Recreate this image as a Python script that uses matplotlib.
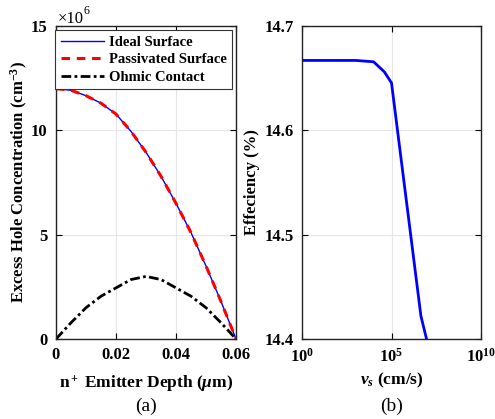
import numpy as np
import matplotlib
matplotlib.use("Agg")
import matplotlib.pyplot as plt

plt.rcParams['font.family'] = ['Liberation Serif', 'DejaVu Serif']
plt.rcParams['font.weight'] = 'bold'
plt.rcParams['mathtext.fontset'] = 'custom'
plt.rcParams['mathtext.rm'] = 'Liberation Serif:bold'
plt.rcParams['mathtext.bf'] = 'Liberation Serif:bold'
plt.rcParams['mathtext.it'] = 'Liberation Serif:bold:italic'

# (a) excess hole concentration vs emitter depth
depth = [0, 0.005, 0.01, 0.015, 0.02, 0.025, 0.03, 0.035, 0.04, 0.045, 0.05, 0.055, 0.06]  # um
ideal = [12.0, 11.92, 11.66, 11.3, 10.78, 9.95, 8.95, 7.8, 6.5, 5.1, 3.5, 1.8, 0.0]  # x1e6 cm^-3
passivated = [12.0, 11.92, 11.66, 11.3, 10.78, 9.95, 8.95, 7.8, 6.5, 5.1, 3.5, 1.8, 0.0]
ohmic = [0.0, 0.78, 1.5, 2.05, 2.45, 2.85, 3.0, 2.85, 2.45, 2.05, 1.5, 0.78, 0.0]

# (b) efficiency vs surface recombination velocity
vs = [1, 10, 100, 1e3, 1e4, 4e4, 1e5, 4.4e6, 1e7]  # cm/s
eff = [14.667, 14.667, 14.667, 14.667, 14.6657, 14.656, 14.6455, 14.422, 14.397]  # %

fig = plt.figure(figsize=(4.95, 4.19), dpi=100)
axa = fig.add_axes([56/495, 80/419, 180/495, 313/419])
axb = fig.add_axes([302/495, 80/419, 179/495, 313/419])

fs = 12

axa.plot(depth, ideal, color='blue', lw=1.0, label='Ideal Surface')
axa.plot(depth, passivated, color='red', lw=2.2, ls=(0, (2.8, 2.2)), label='Passivated Surface')
axa.plot(depth, ohmic, color='black', lw=2.0, ls=(0, (3.5, 1.2, 1, 1.2)), label='Ohmic Contact')
axa.set_xlim(0, 0.06)
axa.set_ylim(0, 15)
axa.set_xticks([0, 0.02, 0.04, 0.06])
axa.set_xticklabels(['0', '0.02', '0.04', '0.06'])
axa.set_yticks([0, 5, 10, 15])
axa.set_xlabel(r'n$^+$ Emitter Depth ($\mu$m)', fontsize=12.5, fontweight='bold', labelpad=7)
axa.set_ylabel(r'Excess Hole Concentration (cm$^{-3}$)', fontsize=12, fontweight='bold', labelpad=1)
# multiplier above the axes, drawn in regular weight
fig.text(58/495, 1 - 23/419, '\u00d710', fontsize=12, ha='left', va='baseline', fontweight='normal')
fig.text(84/495, 1 - 14/419, '6', fontsize=8.5, ha='left', va='baseline', fontweight='normal')
leg = axa.legend(loc='upper right', fontsize=10.5, frameon=True, fancybox=False,
                 borderaxespad=0.3, handlelength=3.0, handletextpad=0.3,
                 labelspacing=0.3, borderpad=0.35)
leg.get_frame().set_edgecolor('#333333')
leg.get_frame().set_linewidth(0.8)
leg.get_frame().set_alpha(1)

axb.plot(vs, eff, color='blue', lw=2.0)
axb.set_xscale('log')
axb.set_xlim(1, 1e10)
axb.set_ylim(14.4, 14.7)
axb.set_xticks([1, 1e5, 1e10])
axb.set_xticklabels([r'10$^{0}$', r'10$^{5}$', r'10$^{10}$'])
axb.minorticks_off()
axb.set_yticks([14.4, 14.5, 14.6, 14.7])
axb.set_xlabel(r'$v_s$ (cm/s)', fontsize=12.5, fontweight='bold', labelpad=4)
axb.set_ylabel('Effeciency (%)', fontsize=12, fontweight='bold', labelpad=3)

for ax in (axa, axb):
    ax.grid(True, color='#e6e6e6', lw=0.8)
    ax.set_axisbelow(True)
    ax.tick_params(direction='in', top=True, right=True, labelsize=fs, length=4, width=0.8, pad=6)
    for s in ax.spines.values():
        s.set_linewidth(1.0)
        s.set_color('#222222')
    for t in ax.get_xticklabels() + ax.get_yticklabels():
        t.set_fontweight('bold')

fig.text((56 + 90)/495, 1 - 406/419, '(a)', fontsize=14, fontweight='normal', ha='center', va='center')
fig.text((302 + 90)/495, 1 - 406/419, '(b)', fontsize=14, fontweight='normal', ha='center', va='center')

fig.savefig('out.png', dpi=100)
